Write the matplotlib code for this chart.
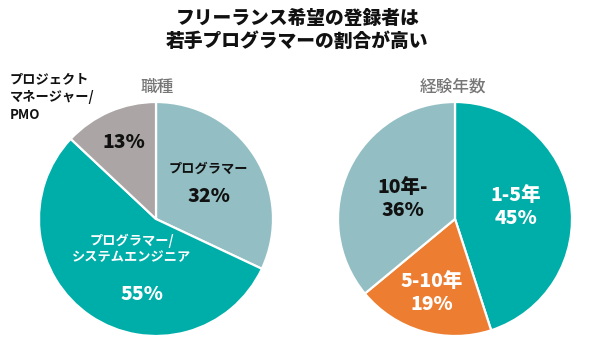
import matplotlib
matplotlib.use("Agg")
import matplotlib.pyplot as plt

plt.rcParams['font.family'] = ['Noto Sans CJK JP', 'DejaVu Sans']

title = "フリーランス希望の登録者は\n若手プログラマーの割合が高い"

job_title = "職種"
job_labels = ["プログラマー", "プログラマー/\nシステムエンジニア", "プロジェクト\nマネージャー/\nPMO"]
job_values = [32, 55, 13]
job_colors = ["#93BFC4", "#00AEA9", "#ABA6A5"]

exp_title = "経験年数"
exp_labels = ["1-5年", "5-10年", "10年-"]
exp_values = [45, 19, 36]
exp_colors = ["#00AEA9", "#ED7D31", "#93BFC4"]

W, H = 595, 353
fig = plt.figure(figsize=(W / 100, H / 100), dpi=100)
fig.patch.set_facecolor("white")


def fx(x):
    return x / W


def fy(y):
    return 1 - y / H


def add_pie(cx, cy, r, values, colors):
    ax = fig.add_axes([fx(cx - r), fy(cy + r), 2 * r / W, 2 * r / H])
    ax.pie(values, colors=colors, startangle=90, counterclock=False,
           wedgeprops=dict(edgecolor="white", linewidth=1.6))
    ax.set_xlim(-1, 1)
    ax.set_ylim(-1, 1)
    ax.set_aspect("auto")
    ax.axis("off")
    return ax


add_pie(156, 219, 117, job_values, job_colors)
add_pie(455, 219, 117, exp_values, exp_colors)

fig.text(0.5, fy(30), title, ha="center", va="center", fontsize=13.5,
         fontweight="black", linespacing=1.25, color="#111111")

fig.text(fx(157), fy(87), job_title, ha="center", va="center", fontsize=12,
         color="#777777", fontweight="medium")
fig.text(fx(453), fy(87), exp_title, ha="center", va="center", fontsize=12,
         color="#777777", fontweight="medium")

lab_fs = 9.5
pct_fs = 14

# Left pie labels
fig.text(fx(10), fy(97), job_labels[2], ha="left", va="center", fontsize=lab_fs,
         fontweight="bold", linespacing=1.35, color="#111111")
fig.text(fx(124), fy(143), f"{job_values[2]}%", ha="center", va="center",
         fontsize=pct_fs, fontweight="black", color="#111111")
fig.text(fx(208), fy(169), job_labels[0], ha="center", va="center",
         fontsize=lab_fs, fontweight="bold", color="#111111")
fig.text(fx(209), fy(196), f"{job_values[0]}%", ha="center", va="center",
         fontsize=pct_fs, fontweight="black", color="#111111")
fig.text(fx(132), fy(249), job_labels[1], ha="center", va="center",
         fontsize=lab_fs, fontweight="bold", linespacing=1.2, color="white")
fig.text(fx(142), fy(295), f"{job_values[1]}%", ha="center", va="center",
         fontsize=pct_fs, fontweight="black", color="white")

# Right pie labels
fig.text(fx(516), fy(207), f"{exp_labels[0]}\n{exp_values[0]}%", ha="center",
         va="center", fontsize=pct_fs, fontweight="black", linespacing=1.25,
         color="white")
fig.text(fx(432), fy(293), f"{exp_labels[1]}\n{exp_values[1]}%", ha="center",
         va="center", fontsize=pct_fs, fontweight="black", linespacing=1.25,
         color="white")
fig.text(fx(403), fy(199), f"{exp_labels[2]}\n{exp_values[2]}%", ha="center",
         va="center", fontsize=pct_fs, fontweight="black", linespacing=1.25,
         color="#111111")

fig.savefig("out.png", dpi=100, facecolor="white")
